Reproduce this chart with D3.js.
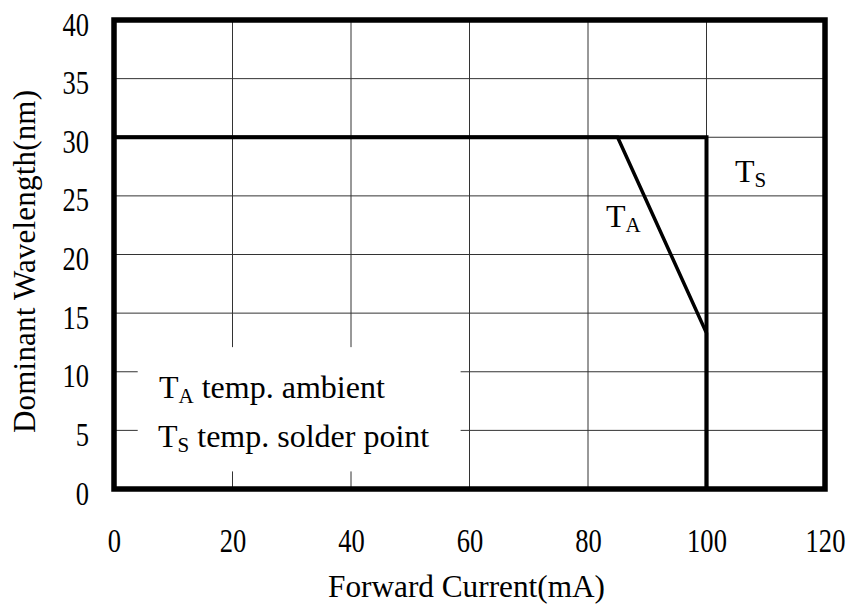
<!DOCTYPE html>
<html>
<head>
<meta charset="utf-8">
<script src="https://cdn.jsdelivr.net/npm/d3@7/dist/d3.min.js"></script>
<style>
    body{ margin:0; background:#fff; }
    svg text{ font-family:"Liberation Serif","Times New Roman",serif; fill:#000; }
    .grid{ stroke:#333; stroke-width:1; }
    .curve{ fill:none; stroke:#000; stroke-width:4; stroke-linejoin:miter; }
</style>
</head>
<body>
<div id="container"></div>
<script>
    // axis ticks
    var xTicks = [0, 20, 40, 60, 80, 100, 120];
    var yTicks = [0, 5, 10, 15, 20, 25, 30, 35, 40];

    // T_S curve (solder point)
    var tsX = [0, 100, 100];
    var tsY = [30, 30, 0];

    // T_A curve (ambient)
    var taX = [0, 85, 100, 100];
    var taY = [30, 30, 13.3, 0];

    var W = 849, H = 613;
    var plotL = 114, plotR = 825, plotT = 20, plotB = 489;

    var svg = d3.select("#container").append("svg")
        .attr("width", W).attr("height", H);

    var x = d3.scaleLinear().domain([0, 120]).range([plotL, plotR]);
    var y = d3.scaleLinear().domain([0, 40]).range([plotB, plotT]);

    // grid
    svg.append("g").selectAll("line")
        .data(xTicks.slice(1, -1)).enter().append("line")
        .attr("class", "grid")
        .attr("x1", function(d){ return x(d); }).attr("x2", function(d){ return x(d); })
        .attr("y1", y(0)).attr("y2", y(40));
    svg.append("g").selectAll("line")
        .data(yTicks.slice(1, -1)).enter().append("line")
        .attr("class", "grid")
        .attr("x1", x(0)).attr("x2", x(120))
        .attr("y1", function(d){ return y(d); }).attr("y2", function(d){ return y(d); });

    // legend background hides the grid
    svg.append("rect")
        .attr("x", x(4)).attr("y", y(12.1))
        .attr("width", x(58.5) - x(4)).attr("height", y(1.5) - y(12.1))
        .attr("fill", "#fff");

    var line = d3.line()
        .x(function(d){ return x(d[0]); })
        .y(function(d){ return y(d[1]); });

    svg.append("path").attr("class", "curve")
        .attr("d", line(d3.zip(tsX, tsY)));
    svg.append("path").attr("class", "curve").style("stroke-width", 3.5)
        .attr("d", line(d3.zip(taX, taY)));

    // frame
    svg.append("rect")
        .attr("x", x(0)).attr("y", y(40))
        .attr("width", x(120) - x(0)).attr("height", y(0) - y(40))
        .attr("fill", "none").attr("stroke", "#000").attr("stroke-width", 5.5);

    // axes (labels only)
    var sx = 0.78;
    var gx = svg.append("g").attr("transform", "translate(0," + plotB + ")")
        .call(d3.axisBottom(x).tickValues(xTicks).tickSize(0).tickFormat(d3.format("d")));
    gx.select(".domain").remove();
    gx.selectAll("text")
        .attr("y", 63).attr("dy", null)
        .attr("transform", "scale(" + sx + ",1)")
        .style("font-size", "34px");
    gx.attr("font-family", null);

    var gy = svg.append("g").attr("transform", "translate(" + plotL + ",0)")
        .call(d3.axisLeft(y).tickValues(yTicks).tickSize(0).tickFormat(d3.format("d")));
    gy.select(".domain").remove();
    gy.selectAll("text")
        .attr("x", -25 / sx).attr("dy", 15)
        .attr("transform", "scale(" + sx + ",1)")
        .style("font-size", "34px");
    gy.attr("font-family", null);

    // axis titles
    svg.append("text")
        .attr("x", 466.5).attr("y", 597)
        .attr("text-anchor", "middle")
        .attr("textLength", 277).attr("lengthAdjust", "spacingAndGlyphs")
        .style("font-size", "32px")
        .text("Forward Current(mA)");

    svg.append("text")
        .attr("transform", "translate(35,261.5) rotate(-90)")
        .attr("text-anchor", "middle")
        .attr("textLength", 343).attr("lengthAdjust", "spacing")
        .style("font-size", "31px")
        .text("Dominant Wavelength(nm)");

    // labels with subscripts
    function subLabel(px, py, main, sub, rest){
        var t = svg.append("text").attr("x", px).attr("y", py).style("font-size", "32px");
        t.append("tspan").text(main);
        t.append("tspan").attr("dy", 5).style("font-size", "21px").text(sub);
        if(rest) t.append("tspan").attr("dy", -5).text(rest);
    }

    subLabel(606, 227, "T", "A");
    subLabel(735, 182, "T", "S");
    subLabel(159, 398, "T", "A", " temp. ambient");
    subLabel(158, 447, "T", "S", " temp. solder point");
</script>
</body>
</html>
